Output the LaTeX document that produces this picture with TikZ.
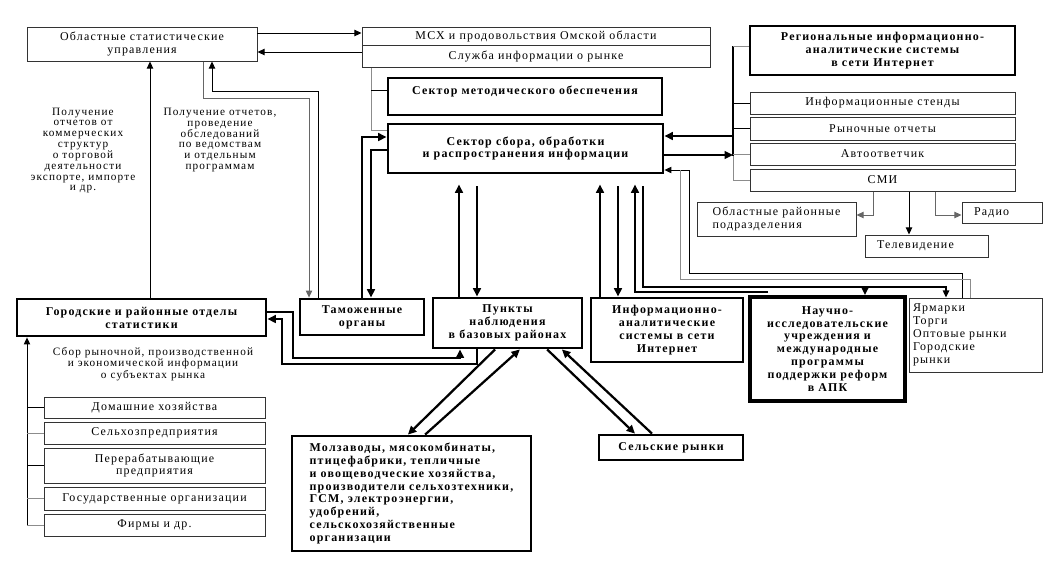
\documentclass[tikz,border=0pt]{standalone}
\usepackage{fontspec}
\setmainfont{Liberation Serif}[LetterSpace=10]
\usetikzlibrary{positioning,arrows.meta,calc}
\tikzset{
  thinbox/.style={draw=black!80, line width=0.7pt, align=center, inner sep=2pt},
  thickbox/.style={draw, line width=2pt, align=center, inner sep=2pt, font=\bfseries},
  stdline/.style={line width=0.7pt},
  grayline/.style={line width=0.7pt, draw=black!45},
  thinarrow/.style={-{Stealth[length=5pt, width=4.5pt, inset=0pt]}, line width=0.7pt},
  thickline/.style={line width=1.6pt},
  thickarrow/.style={-{Stealth[length=6pt, width=5.5pt, inset=0pt]}, line width=1.6pt},
  gapin/.style={shorten >=2.5mm},
  gapout/.style={shorten <=3mm},
  notebox/.style={align=center, inner sep=0pt, font=\fontsize{8}{7.7}\selectfont},
}
\begin{document}
\fontsize{8.5}{9.2}\selectfont
\begin{tikzpicture}
\useasboundingbox (0,0) rectangle (26.5,-14.65);

%% Top row
\node[thinbox, minimum width=5.75cm, minimum height=0.85cm] (obl) at (3.55,-1.10) {Областные статистические\\управления};
\node[thinbox, minimum width=8.7cm, minimum height=0.45cm] (msh) at (13.4,-0.9) {МСХ и продовольствия Омской области};
\node[thinbox, minimum width=8.7cm, minimum height=0.55cm, below=0pt of msh] (slu) {Служба информации о рынке};
\node[thickbox, minimum width=6.85cm, minimum height=0.925cm] (met) at (13.125,-2.4125) {Сектор методического обеспечения\\\mbox{}};
\node[thickbox, minimum width=6.875cm, minimum height=1.225cm] (sbor) at (13.1375,-3.7125) {Сектор сбора, обработки\\и распространения информации};

%% Right column
\node[thickbox, minimum width=6.625cm, minimum height=1.225cm] (reg) at (22.0625,-1.2625) {Региональные информационно-\\аналитические системы\\в сети Интернет};
\node[thinbox, minimum width=6.625cm, minimum height=0.55cm] (stands) at (22.0625,-2.575) {Информационные стенды};
\node[thinbox, minimum width=6.625cm, minimum height=0.575cm] (rynok) at (22.0625,-3.2125) {Рыночные отчеты};
\node[thinbox, minimum width=6.625cm, minimum height=0.55cm] (avto) at (22.0625,-3.85) {Автоответчик};
\node[thinbox, minimum width=6.625cm, minimum height=0.55cm] (smi) at (22.0625,-4.5) {СМИ};
\node[thinbox, align=left, minimum width=3.975cm, minimum height=0.85cm] (oblr) at (19.4125,-5.475) {Областные районные\\подразделения};
\node[thinbox, align=left, text width=2.475cm, inner xsep=3mm, minimum height=0.55cm] (tele) at (23.1625,-6.15) {Телевидение};
\node[thinbox, align=left, text width=1.4cm, inner xsep=3mm, minimum height=0.525cm] (radio) at (25.05,-5.3125) {Радио};

%% Middle row
\node[thickbox, minimum width=6.225cm, minimum height=0.925cm] (gor) at (3.5375,-7.9375) {Городские и районные отделы\\статистики};
\node[thickbox, minimum width=3.1cm, minimum height=0.9cm] (tam) at (9.05,-7.925) {Таможенные\\органы};
\node[thickbox, minimum width=3.725cm, minimum height=1.25cm] (punk) at (12.6875,-8.075) {Пункты\\наблюдения\\в базовых районах};
\node[thickbox, minimum width=3.8cm, minimum height=1.6cm] (infs) at (16.675,-8.25) {Информационно-\\аналитические\\системы в сети\\Интернет};
\node[thickbox, line width=2.8pt, minimum width=3.875cm, minimum height=2.6cm] (nauch) at (20.6875,-8.725) {Научно-\\исследовательские\\учреждения и\\международные\\программы\\поддержки реформ\\в АПК};
\node[thinbox, align=left, text width=3.125cm, inner xsep=1mm, minimum height=1.85cm] (yarm) at (24.3875,-8.375) {Ярмарки\\Торги\\Оптовые рынки\\Городские\\рынки};

%% Bottom row
\node[thickbox, align=left, minimum width=5.975cm, minimum height=2.875cm] (molz) at (10.2875,-12.3375) {Молзаводы, мясокомбинаты,\\птицефабрики, тепличные\\и овощеводческие хозяйства,\\производители сельхозтехники,\\ГСМ, электроэнергии,\\удобрений,\\сельскохозяйственные\\организации};
\node[thickbox, minimum width=3.6cm, minimum height=0.625cm] (selr) at (16.775,-11.1875) {Сельские рынки};

%% Market subjects
\node[thinbox, minimum width=5.525cm, minimum height=0.525cm] (dom) at (3.8625,-10.1875) {Домашние хозяйства};
\node[thinbox, minimum width=5.525cm, minimum height=0.55cm] (selh) at (3.8625,-10.825) {Сельхозпредприятия};
\node[thinbox, minimum width=5.525cm, minimum height=0.875cm] (perer) at (3.8625,-11.6375) {Перерабатывающие\\предприятия};
\node[thinbox, minimum width=5.525cm, minimum height=0.575cm] (gos) at (3.8625,-12.4625) {Государственные организации};
\node[thinbox, minimum width=5.525cm, minimum height=0.55cm] (firm) at (3.8625,-13.125) {Фирмы и др.};

%% Notes
\node[notebox] (getcom) at (2.075,-3.7625) {Получение\\отчетов от\\коммерческих\\структур\\о торговой\\деятельности\\экспорте, импорте\\и др.};
\node[notebox] (getved) at (5.5,-3.5) {Получение отчетов,\\проведение\\обследований\\по ведомствам\\и отдельным\\программам};
\node[notebox, font=\fontsize{8}{8.2}\selectfont] (collect) at (3.825,-9.1) {Сбор рыночной, производственной\\и экономической информации\\о субъектах рынка};

%% Ministry links
\coordinate (o1) at ([yshift=2.75mm]obl.east);
\coordinate (o2) at ([yshift=-2mm]obl.east);
\draw[thinarrow] (o1) -- (o1 -| msh.west);
\draw[thinarrow] (o2 -| slu.west) -- (o2);
\coordinate (s1) at (9.275,-3.25);
\coordinate (s2) at (9.275,-2.25);
\draw[grayline] (s1 |- slu.south) -- (s1) -- (s1 -| sbor.west);
\draw[stdline] (s2) -- (s2 -| met.west);

%% Customs
\coordinate (t1) at (9.05,-3.425);
\coordinate (t2) at (9.275,-3.75);
\draw[thickarrow] (tam.north) |- (t1 -| sbor.west);
\draw[thickarrow] (t2 -| sbor.west) -- (t2) -- (t2 |- tam.north);
\coordinate (a1) at (5.075,-2.45);
\coordinate (a2) at (7.725,-2.45);
\draw[thinarrow, black!60] (a1 |- obl.south) -- (a1) -- (a2) -- (a2 |- tam.north);
\coordinate (b1) at (7.95,-2.275);
\coordinate (b2) at (5.3,-2.275);
\draw[thinarrow] (b1 |- tam.north) -- (b1) -- (b2) -- (b2 |- obl.south);
\coordinate (c1) at (3.75,0);
\draw[thinarrow] (c1 |- gor.north) -- (c1 |- obl.south);

%% Observation points and internet systems
\coordinate (p1) at (11.475,0);
\coordinate (p2) at (11.925,0);
\draw[thickarrow, gapin] (p1 |- punk.north) -- (p1 |- sbor.south);
\draw[thickarrow, gapout] (p2 |- sbor.south) -- (p2 |- punk.north);
\coordinate (i1) at (15.0,0);
\coordinate (i2) at (15.45,0);
\draw[thickarrow, gapin] (i1 |- infs.north) -- (i1 |- sbor.south);
\draw[thickarrow, gapout] (i2 |- sbor.south) -- (i2 |- infs.north);

%% Research and fairs
\coordinate (n1) at (19.2,-7.3);
\coordinate (n2) at (15.875,-7.3);
\draw[thickarrow, gapin] (n1) -- (n2) -- (n2 |- sbor.south);
\coordinate (m1) at (16.075,-7.175);
\coordinate (m2) at (21.625,-7.175);
\coordinate (m3) at (23.65,-7.175);
\draw[thickline, gapout] (m1 |- sbor.south) -- (m1) -- (m2);
\draw[thickarrow] (m2) -- (m2 |- nauch.north);
\draw[thinarrow, line width=1pt] (m2) -- (m3) -- (m3 |- yarm.north);
\coordinate (y1) at (24.05,-6.825);
\coordinate (y2) at (17.225,-6.825);
\coordinate (y3) at (17.225,-4.25);
\draw[thinarrow] (y1 |- yarm.north) -- (y1) -- (y2) -- (y3) -- (y3 -| sbor.east);
\coordinate (g1) at (24.25,-6.975);
\coordinate (g2) at (17.0,-6.975);
\draw[grayline] (g1 |- yarm.north) -- (g1) -- (g2) -- (g2 |- y3);

%% Right bus
\coordinate (r1) at (18.325,-1.15);
\coordinate (r2) at (18.325,-3.9);
\draw[thickline] (r1) -- (r2);
\draw[grayline] (r1) -- (r1 -| reg.west);
\draw[grayline] (r2) |- (smi.west);
\draw[stdline] (r1 |- stands.west) -- (stands.west);
\draw[stdline] (r1 |- rynok.west) -- (rynok.west);
\draw[grayline] (r1 |- avto.west) -- (avto.west);
\coordinate (r3) at (18.325,-3.4);
\coordinate (r4) at (18.325,-3.875);
\draw[thickarrow] (r3) -- (r3 -| sbor.east);
\draw[thickarrow] (r4 -| sbor.east) -- (r4);

%% Mass media
\coordinate (k1) at (21.825,-5.375);
\coordinate (k2) at (22.725,0);
\coordinate (k3) at (23.375,-5.375);
\draw[thinarrow, black!60] (k1 |- smi.south) -- (k1) -- (k1 -| oblr.east);
\draw[thinarrow] (k2 |- smi.south) -- (k2 |- tele.north);
\draw[thinarrow, black!60] (k3 |- smi.south) -- (k3) -- (k3 -| radio.west);

%% City departments
\coordinate (d1) at (7.325,-7.8);
\coordinate (d2) at (11.5,-8.95);
\draw[thickarrow] (d1 -| gor.east) -- (d1) |- (d2) -- (d2 |- punk.south);
\coordinate (e1) at (11.925,-9.1);
\coordinate (e2) at (7.05,-7.975);
\draw[thickarrow] (e1 |- punk.south) -- (e1) -| (e2) -- (e2 -| gor.east);

%% Producers and rural markets
\draw[thickarrow] ([xshift=-3.1mm]punk.south) -- ([xshift=-0.9mm]molz.north);
\draw[thickarrow] ([xshift=3.4mm]molz.north) -- ([xshift=3.1mm]punk.south);
\draw[thickarrow] ([xshift=9.9mm]punk.south) -- ([xshift=-9mm]selr.north);
\draw[thickarrow] ([xshift=-4.75mm]selr.north) -- ([xshift=13.6mm]punk.south);

%% Left bus
\coordinate (l1) at (0.675,0);
\draw[thinarrow] (l1 |- firm.west) -- (l1 |- gor.south);
\draw[stdline] (l1 |- dom.west) -- (dom.west);
\draw[grayline] (l1 |- selh.west) -- (selh.west);
\draw[stdline] (l1 |- perer.west) -- (perer.west);
\draw[grayline] (l1 |- gos.west) -- (gos.west);
\draw[grayline] (l1 |- firm.west) -- (firm.west);
\end{tikzpicture}
\end{document}
